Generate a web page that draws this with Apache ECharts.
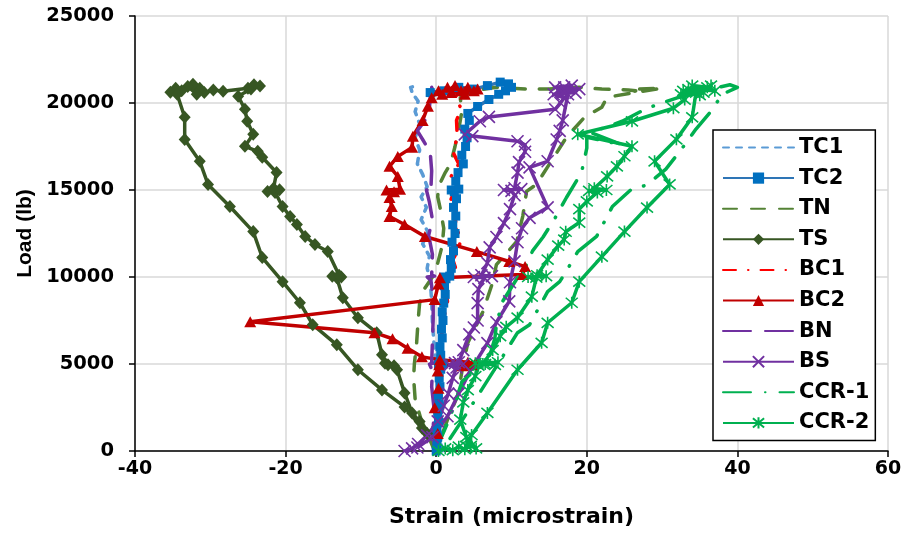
<!DOCTYPE html>
<html>
<head>
<meta charset="utf-8">
<script src="https://cdn.jsdelivr.net/npm/echarts@6/dist/echarts.min.js"></script>
<style>
  html, body { margin: 0; padding: 0; background: #ffffff; }
  #chart { width: 905px; height: 533px; }
</style>
</head>
<body>
<div id="chart"></div>
<script>
// Strain gauge readings (microstrain) against applied load (lb)

const tc1Strain = [0.8, 0.5, 0.9, 0.4, 0.2, 0.0, -0.3, -0.5, -0.6, -0.8, -1.2, -0.9, -1.8, -1.1, -2.0, -1.3, -2.0, -1.2, -1.8, -2.5, -2.2, -2.8, -2.2, -2.8, -2.4, -3.2, -3.4, -2.5];
const tc1Load   = [0, 800, 1800, 2800, 3800, 5000, 6200, 7400, 8600, 9800, 10500, 11200, 11900, 12600, 13300, 14000, 14600, 15200, 15900, 16500, 17300, 18000, 18800, 19500, 20100, 20600, 20900, 21000];

const tc2Strain = [0, 0.1, 0.2, 0.1, 0.3, 0.2, 0.4, 0.3, 0.5, 0.4, 0.6, 0.3, 0.9, 0.5, 0.6, 0.5, 0.8, 0.7, 0.9, 0.8, 1.0, 1.2, 1.1, 1.3, 1.0, 1.8, 2.0, 1.9, 2.3, 2.1, 2.5, 2.2, 2.6, 2.3, 2.7, 2.4, 2.0, 3.0, 2.6, 2.9, 3.6, 3.4, 3.9, 4.1, 3.8, 4.4, 4.2, 5.5, 7.0, 8.3, 9.2, 10.0, 9.6, 8.5, 6.8, 5.0, 3.0, 1.0, -0.8];
const tc2Load   = [0, 400, 800, 1200, 1700, 2200, 2700, 3200, 3700, 4200, 4700, 4950, 5000, 5050, 5500, 6000, 6500, 7000, 7500, 8000, 8500, 9000, 9500, 9900, 10000, 10050, 10500, 11000, 11500, 12000, 12500, 13000, 13500, 14000, 14500, 14900, 15000, 15050, 15500, 16000, 16500, 17000, 17500, 18000, 18500, 19000, 19400, 19800, 20200, 20500, 20700, 20900, 21100, 21200, 21000, 20800, 20900, 20700, 20600];

const tnStrain = [-0.2, -1.0, -2.0, -2.8, -3.0, -2.9, -2.6, -2.4, -2.2, -1.6, -0.5, 0.2, 0.8, 1.0, 0.6, 0.2, 0.3, 1.2, 1.9, 2.5, 3.0, 3.4, 3.2, 5.0, 8.0, 12.0, 15.0, 19.0, 22.0, 25.5, 26.5, 25.8, 27.0, 30.0, 27.0, 22.7, 22.0, 19.7, 17.3, 15.5, 13.3, 12.0, 11.5, 10.7, 8.0, 7.4, 6.2, 4.2, 3.5, 2.9, 1.5, 0.5];
const tnLoad   = [0, 800, 1800, 3000, 4200, 5000, 6200, 7500, 8500, 9300, 10000, 10800, 11800, 12800, 13800, 14600, 15200, 16000, 16500, 17500, 18500, 19500, 20300, 20700, 20900, 20800, 20800, 20900, 20800, 20750, 20700, 20600, 20800, 20850, 20650, 20330, 19760, 19180, 18030, 16800, 15320, 14920, 13500, 12040, 10710, 9560, 8000, 6220, 4800, 3230, 1800, 600];

const tsStrain = [-1.2, -2.2, -3.2, -4.2, -5.2, -6.4, -5.6, -6.8, -7.2, -7.9, -10.4, -12.4, -13.2, -12.6, -13.8, -12.9, -14.4, -16.1, -17.4, -18.5, -19.4, -20.4, -21.4, -22.4, -20.8, -21.6, -21.2, -23.1, -23.7, -25.4, -24.3, -25.1, -25.4, -26.3, -24.6, -23.4, -24.2, -25.0, -28.3, -29.6, -30.8, -31.4, -32.3, -31.8, -33.0, -33.8, -34.6, -35.3, -34.4, -33.4, -33.4, -31.4, -30.3, -27.4, -24.3, -23.1, -20.4, -18.1, -16.4, -13.2, -10.4, -7.2, -4.2, -1.9];
const tsLoad   = [1000, 1700, 2190, 3340, 4670, 4950, 4900, 5050, 5530, 6800, 7660, 8810, 9960, 10000, 10050, 10100, 11460, 11870, 12330, 13020, 13480, 14050, 14860, 14920, 15020, 15100, 16010, 16880, 17220, 17510, 18200, 18950, 19640, 20390, 20800, 20970, 21050, 20850, 20680, 20750, 20600, 20850, 21080, 20500, 20950, 20700, 20850, 20620, 20500, 19180, 17900, 16650, 15320, 14050, 12610, 11120, 9730, 8520, 7260, 6100, 4670, 3510, 2530, 1320];

const bc1Strain = [0, 0.2, 0.4, 0.3, 0.5, 0.6, 0.9, 1.5, 1.2, 2.0, 2.6, 2.2, 3.0, 3.3, 2.4, 2.9, 1.9, 2.6, 2.0, 3.0, 2.2, 2.8, 2.7, 3.3, 2.5, 3.0];
const bc1Load   = [0, 1200, 2500, 3800, 5000, 6200, 7400, 8600, 9400, 10000, 10500, 11000, 11600, 12300, 12900, 13700, 14400, 15100, 15800, 16500, 17200, 18000, 19000, 19700, 20300, 20700];

const bc2Strain = [0.2, -0.2, 0.3, 0.2, 0.4, 3.5, 4.7, 5.2, 4.2, 0.5, -1.9, -3.8, -5.8, -8.2, -24.7, -0.2, 0.3, 0.5, 11.5, 11.8, 9.7, 5.4, -1.5, -4.2, -6.2, -5.9, -6.2, -5.6, -6.6, -4.8, -5.1, -6.2, -5.1, -3.2, -3.1, -1.8, -1.1, -0.6, 0.3, 1.5, 0.8, 2.5, 3.3, 4.2, 2.0, 5.0, 3.8, 5.5];
const bc2Load   = [1000, 2480, 3600, 4600, 4950, 4900, 4950, 5050, 5100, 5250, 5410, 5900, 6450, 6800, 7430, 8700, 9600, 9950, 10150, 10600, 10890, 11460, 12330, 13020, 13480, 14050, 14570, 14900, 15000, 15050, 15780, 16360, 16930, 17450, 18090, 19000, 19810, 20300, 20700, 20900, 20500, 21000, 20700, 20900, 20600, 20700, 20500, 20800];

const bnStrain = [-0.2, -0.4, -0.3, -0.6, -0.5, -0.9, -0.3, -0.6, -0.5, -0.4, -0.4, -0.7, -1.2, -0.2, -0.6, -0.5, -1.0, -0.5, -0.9, -1.3, -0.3, -0.7, -0.6, -0.8, -1.8, -2.5, -1.5, -0.9, -0.8, -0.4, -0.6];
const bnLoad   = [0, 1200, 2500, 3700, 4600, 5000, 5050, 5100, 6300, 7600, 8800, 9800, 10000, 10050, 10100, 11300, 12400, 13300, 14300, 15000, 15050, 15100, 16100, 17200, 17900, 18400, 19000, 19700, 20300, 20700, 20900];

const bsStrain = [-4.2, -3.2, -2.4, -1.2, 0.2, 1.0, 1.6, 2.2, 2.7, 1.8, 3.6, 2.5, 3.0, 3.6, 4.4, 5.0, 5.5, 5.5, 5.6, 6.4, 5.0, 7.4, 6.0, 6.8, 7.1, 8.0, 9.0, 9.8, 10.4, 10.0, 9.0, 11.3, 10.4, 10.8, 11.0, 11.8, 11.8, 10.8, 4.8, 3.8, 5.8, 7.0, 15.8, 16.5, 17.0, 15.6, 18.5, 16.2, 19.0, 15.8, 18.0, 17.0, 16.8, 17.5, 16.8, 16.4, 16.0, 14.8, 12.4, 14.8, 12.4, 11.4, 10.8, 10.4, 9.8, 9.7, 8.0, 6.8, 4.5, 3.0, 1.5, -0.5, -2.5];
const bsLoad   = [0, 150, 400, 900, 1700, 2600, 3300, 4200, 4800, 4950, 5000, 5050, 5100, 5800, 6700, 7100, 7500, 8500, 9300, 9950, 10000, 10050, 10100, 10800, 11700, 12300, 13100, 13900, 14700, 14950, 15000, 15050, 15100, 16000, 16600, 17200, 17600, 17800, 18100, 18200, 18950, 19200, 19640, 20000, 20300, 20500, 20600, 20700, 20800, 20900, 21000, 20900, 20600, 20500, 19000, 18400, 17900, 16650, 16300, 14000, 13400, 12800, 12000, 10900, 9700, 8600, 7400, 6200, 4600, 3300, 2000, 800, 200];

const ccr1Strain = [0, 0.6, 1.5, 2.4, 3.4, 5.5, 6.5, 7.2, 7.8, 8.0, 8.8, 10.8, 12.0, 12.8, 14.2, 15.8, 17.3, 19.3, 20.0, 20.0, 24.7, 20.5, 24.7, 28.0, 32.0, 35.0, 37.0, 39.0, 40.0, 38.0, 36.5, 34.5, 32.5, 30.5, 28.0, 27.0, 25.9, 23.4, 21.3, 18.8, 17.5, 16.4, 14.8, 12.4, 10.8, 8.5, 6.0, 3.5, 1.5];
const ccr1Load   = [0, 700, 1600, 2600, 3970, 4780, 5000, 5600, 6500, 7300, 8580, 9960, 10700, 11500, 12300, 13400, 14570, 16010, 17400, 18030, 17600, 18300, 18950, 19700, 20300, 20600, 20850, 21050, 20900, 20500, 19530, 18500, 17300, 16200, 15300, 15150, 15030, 14050, 12330, 11460, 10500, 9730, 9160, 7260, 6800, 5200, 3500, 1800, 500];

const ccr2Strain = [0.3, 1.2, 2.2, 3.0, 3.8, 4.6, 5.3, 4.0, 3.2, 3.6, 4.2, 5.2, 5.6, 6.5, 7.8, 5.2, 8.2, 6.2, 7.5, 8.5, 9.3, 10.8, 12.7, 13.3, 12.2, 14.6, 13.4, 14.8, 16.2, 17.0, 17.2, 19.0, 19.0, 20.0, 21.4, 20.3, 22.6, 21.0, 22.7, 24.0, 25.0, 26.0, 18.8, 26.0, 31.5, 33.0, 32.5, 35.5, 33.5, 37.0, 34.0, 36.0, 32.8, 35.0, 36.5, 34.5, 34.0, 31.9, 29.0, 31.0, 28.0, 25.0, 22.0, 19.0, 18.0, 14.8, 14.0, 10.8, 6.8, 4.7, 4.0];
const ccr2Load   = [0, 150, 50, 250, 100, 300, 150, 800, 1800, 2800, 3500, 4300, 4900, 5000, 4950, 5050, 5100, 5000, 5800, 6600, 7140, 7660, 8870, 9960, 10000, 10050, 10100, 11000, 11800, 12150, 12600, 13130, 13900, 14340, 14860, 14950, 15000, 15100, 15780, 16360, 16940, 17510, 18200, 18950, 19700, 20200, 20500, 20600, 20800, 20700, 21000, 20900, 20700, 20450, 21000, 20600, 19180, 17910, 16650, 15320, 13990, 12610, 11170, 9730, 8520, 7370, 6220, 4670, 2190, 920, 300];

// Axis ranges and tick spacing
const strainTicks = { min: -40, max: 60, interval: 20 };
const loadTicks   = { min: 0, max: 25000, interval: 5000 };

const seriesNames = ['TC1', 'TC2', 'TN', 'TS', 'BC1', 'BC2', 'BN', 'BS', 'CCR-1', 'CCR-2'];

const pairs = (xs, ys) => xs.map((x, i) => [x, ys[i]]);

const crossPath = 'path://M0,0L10,10M10,0L0,10';
const starPath  = 'path://M0,0L10,10M10,0L0,10M5,-1L5,11';

const boldFont = 'DejaVu Sans';

function lineSeries(name, data, color, type, width, extra) {
  return Object.assign({
    name: name,
    type: 'line',
    data: data,
    symbol: 'none',
    lineStyle: { color: color, width: width, type: type, cap: type === 'solid' ? 'butt' : 'round', join: 'round' },
    itemStyle: { color: color },
    emphasis: { disabled: true },
    animation: false
  }, extra || {});
}

const series = [
  lineSeries('TC1', pairs(tc1Strain, tc1Load), '#5B9BD5', [6, 7], 3.5),
  lineSeries('TC2', pairs(tc2Strain, tc2Load), '#2E75B6', 'solid', 3.5,
    { symbol: 'rect', symbolSize: 9, itemStyle: { color: '#0070C0' } }),
  lineSeries('TN', pairs(tnStrain, tnLoad), '#548235', [14, 14], 3.5),
  lineSeries('TS', pairs(tsStrain, tsLoad), '#375623', 'solid', 3.5,
    { symbol: 'diamond', symbolSize: [12, 13], itemStyle: { color: '#375623' } }),
  lineSeries('BC1', pairs(bc1Strain, bc1Load), '#FF0000', [13, 12, 0.5, 12], 3.5),
  lineSeries('BC2', pairs(bc2Strain, bc2Load), '#C00000', 'solid', 3.5,
    { symbol: 'triangle', symbolSize: [12, 11], itemStyle: { color: '#C00000' } }),
  lineSeries('BN', pairs(bnStrain, bnLoad), '#7030A0', [28, 14], 3.5),
  lineSeries('BS', pairs(bsStrain, bsLoad), '#7030A0', 'solid', 3.5,
    { symbol: crossPath, symbolSize: 12,
      itemStyle: { color: 'none', borderColor: '#7030A0', borderWidth: 1.6 } }),
  lineSeries('CCR-1', pairs(ccr1Strain, ccr1Load), '#00B050', [28, 14, 0.5, 14], 3.5),
  lineSeries('CCR-2', pairs(ccr2Strain, ccr2Load), '#00B050', 'solid', 3.5,
    { symbol: starPath, symbolSize: 12,
      itemStyle: { color: 'none', borderColor: '#00B050', borderWidth: 1.6 } })
];

// Legend entries: series drawn without markers show only their line
const legendData = seriesNames.map(name => {
  const s = series.find(item => item.name === name);
  return s.symbol === 'none' ? { name: name, itemStyle: { opacity: 0 } } : { name: name };
});

const chart = echarts.init(document.getElementById('chart'), null, { renderer: 'canvas' });

chart.setOption({
  backgroundColor: '#ffffff',
  animation: false,
  grid: { left: 135, right: 17, top: 16, bottom: 82, containLabel: false },
  xAxis: {
    type: 'value',
    min: strainTicks.min, max: strainTicks.max, interval: strainTicks.interval,
    name: 'Strain (microstrain)',
    nameLocation: 'middle',
    nameGap: 55,
    nameTextStyle: { fontFamily: boldFont, fontWeight: 'bold', fontSize: 22, color: '#000' },
    axisLine: { onZero: false, lineStyle: { color: '#000', width: 1.5 } },
    axisTick: { show: true, inside: false, length: 6, lineStyle: { color: '#000', width: 1.5 } },
    axisLabel: { margin: 9, fontFamily: boldFont, fontWeight: 'bold', fontSize: 19, color: '#000',
      formatter: v => String(v) },
    splitLine: { show: true, lineStyle: { color: '#D9D9D9', width: 1.5 } }
  },
  yAxis: {
    type: 'value',
    min: loadTicks.min, max: loadTicks.max, interval: loadTicks.interval,
    name: 'Load (lb)',
    nameLocation: 'middle',
    nameGap: 99,
    nameRotate: 90,
    nameTextStyle: { fontFamily: 'Liberation Sans', fontWeight: 'bold', fontSize: 21, color: '#000' },
    axisLine: { show: true, onZero: false, lineStyle: { color: '#000', width: 1.5 } },
    axisTick: { show: true, inside: false, length: 6, lineStyle: { color: '#000', width: 1.5 } },
    axisLabel: { margin: 21, fontFamily: boldFont, fontWeight: 'bold', fontSize: 19.5, color: '#000',
      formatter: v => String(v) },
    splitLine: { show: true, lineStyle: { color: '#D9D9D9', width: 1.5 } }
  },
  legend: {
    orient: 'vertical',
    left: 713,
    top: 130,
    padding: [7, 6, 7, 9],
    itemWidth: 71,
    itemHeight: 14,
    itemGap: 9.6,
    backgroundColor: '#ffffff',
    borderColor: '#000',
    borderWidth: 1.5,
    textStyle: { fontFamily: boldFont, fontWeight: 'bold', fontSize: 21, color: '#000' },
    data: legendData
  },
  series: series
});
</script>
</body>
</html>
